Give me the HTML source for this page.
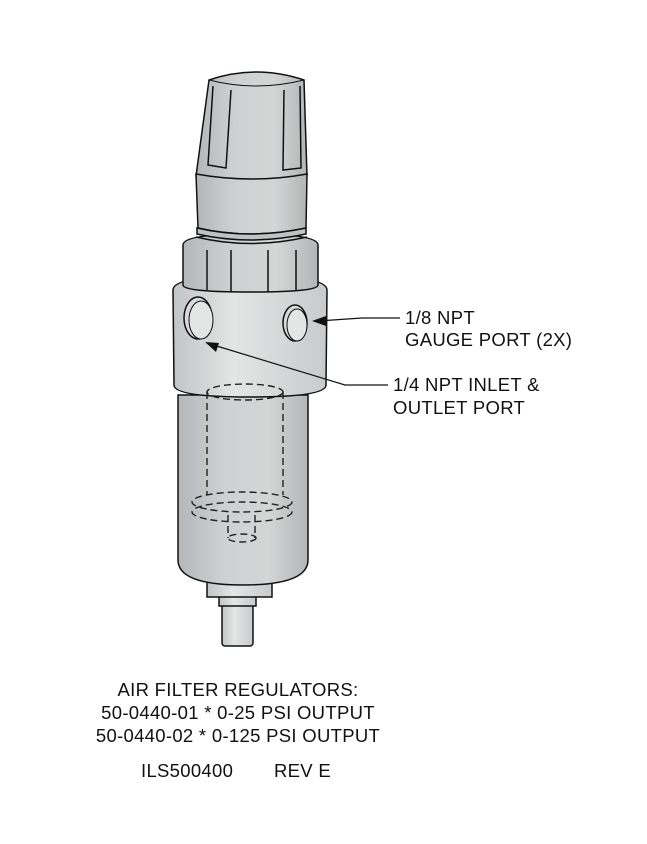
<!DOCTYPE html><html><head><style>body{margin:0;background:#fff}svg{display:block}text{font-family:"Liberation Sans",sans-serif;font-size:18.5px;letter-spacing:0.3px;fill:#111}</style></head><body>
<svg width="647" height="844" viewBox="0 0 647 844">
<defs>
<linearGradient id="g" x1="0" x2="1"><stop offset="0" stop-color="#b4b7b9"/><stop offset=".35" stop-color="#ced0d1"/><stop offset=".7" stop-color="#d4d6d6"/><stop offset="1" stop-color="#b3b5b6"/></linearGradient>
<linearGradient id="g2" x1="0" x2="1"><stop offset="0" stop-color="#c2c5c6"/><stop offset=".4" stop-color="#e4e5e5"/><stop offset="1" stop-color="#c8cacb"/></linearGradient>
</defs>
<g stroke="#111" stroke-width="1.5">
<rect x="222" y="603" width="31" height="43" rx="3" fill="url(#g2)"/>
<rect x="219" y="596" width="37" height="10" fill="url(#g2)"/>
<rect x="207" y="582" width="65" height="15" fill="url(#g2)"/>
<path d="M178 395 L308 395 L308 560 Q308 585 243 585 Q178 585 178 560 Z" fill="url(#g)"/>
<path d="M173 290 Q173 276 250 276 Q327 276 327 290 L326 385 Q326 397 250 397 Q174 397 174 385 Z" fill="url(#g2)"/>
<ellipse cx="198" cy="318" rx="14" ry="21" fill="#d8dada"/>
<ellipse cx="201" cy="320" rx="12" ry="19" fill="#e4e5e5" stroke-width="1"/>
<ellipse cx="295" cy="323" rx="12" ry="18" fill="#d8dada"/>
<ellipse cx="297" cy="325" rx="10" ry="16" fill="#e4e5e5" stroke-width="1"/>
<path d="M183 245 Q183 234 250 234 Q318 234 318 245 L318 285 Q318 292 250 292 Q183 292 183 285 Z" fill="url(#g)"/>
<path d="M207 250 L207 290 M231 250 L231 292 M268 250 L268 292 M296 250 L296 290" fill="none"/>
<path d="M196 237 Q250 250 307 237" fill="none"/>
<path d="M209 80 Q256 64 304 80 L307 176 Q252 186 196 176 Z" fill="url(#g)"/>
<path d="M209 80 Q256 92 304 80" fill="none" stroke-width="1"/>
<path d="M213 86 L208 165 L226 168 L231 90 M284 90 L283 170 L301 168 L300 86" fill="none"/>
<path d="M196 174 Q252 184 307 174 L306 228 Q250 240 198 228 Z" fill="url(#g)"/>
<path d="M197 228 Q250 240 306 228 L306 234 Q250 246 197 234 Z" fill="#c0c2c3"/>
</g>
<g stroke="#222" stroke-width="1.4" fill="none" stroke-dasharray="7,4">
<ellipse cx="245" cy="392" rx="38" ry="8"/>
<path d="M207 392 L207 495 M283 392 L283 495"/>
<ellipse cx="242" cy="502" rx="50" ry="10"/>
<ellipse cx="242" cy="512" rx="50" ry="10"/>
<path d="M228 515 L228 538 M255 515 L255 538"/>
<ellipse cx="242" cy="538" rx="14" ry="4"/>
</g>
<g stroke="#111" stroke-width="1.2" fill="none">
<path d="M400 318 L362 318 L318 321"/>
<path d="M388 385 L345 385 L210 344"/>
</g>
<path d="M312 321 L326 316 L326 326 Z" fill="#111"/>
<path d="M205 342 L219 343 L216 352 Z" fill="#111"/>
<text x="405" y="324">1/8 NPT</text>
<text x="405" y="346">GAUGE PORT (2X)</text>
<text x="393" y="391">1/4 NPT INLET &amp;</text>
<text x="393" y="414">OUTLET PORT</text>
<g text-anchor="middle">
<text x="238" y="696">AIR FILTER REGULATORS:</text>
<text x="238" y="719">50-0440-01 * 0-25 PSI OUTPUT</text>
<text x="238" y="742">50-0440-02 * 0-125 PSI OUTPUT</text>
</g>
<text x="141" y="777">ILS500400</text>
<text x="274" y="777">REV E</text>
</svg></body></html>
